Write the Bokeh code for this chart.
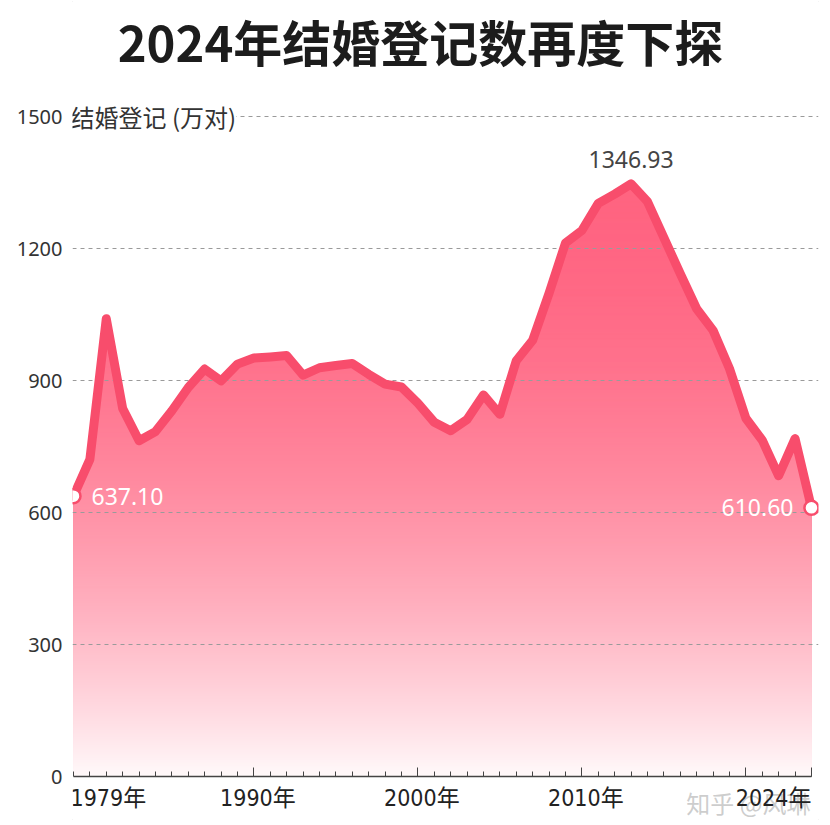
import numpy as np
from bokeh.plotting import figure
from bokeh.models import FixedTicker, Label, Range1d
from bokeh.core.properties import value
from bokeh.embed import file_html
from bokeh.resources import INLINE

# ---------------- data ----------------
years = list(range(1979, 2025))
marriages = [637.10, 720.9, 1040.3, 836.4, 763.0, 783.9, 831.3, 884.1, 926.0, 899.3,
             937.2, 951.1, 953.6, 956.6, 912.4, 929.0, 934.1, 938.7, 914.1, 891.7,
             885.3, 848.5, 805.0, 786.0, 811.4, 867.2, 823.1, 945.0, 991.4, 1098.3,
             1212.4, 1241.0, 1302.4, 1323.6, 1346.93, 1306.7, 1224.7, 1142.8, 1063.1, 1013.9,
             927.3, 814.3, 764.3, 683.5, 768.0, 610.60]
y_ticks = [0, 300, 600, 900, 1200, 1500]
x_major_ticks = [1990, 2000, 2010, 2020, 2024]
x_label_years = [1979, 1990, 2000, 2010, 2024]
x_label_texts = ["1979年", "1990年", "2000年", "2010年", "2024年"]
title_text = "2024年结婚登记数再度下探"
unit_text = "结婚登记 (万对)"
watermark = "知乎 @风琳"

LINE = "#F84D6C"
FILL_TOP = (255, 100, 129)
CJK = "Noto Sans CJK SC"
NUM = "Noto Sans"

# pixel scale: 16.4 px per year, 0.44 px per 万对
x0, x1 = 1978.94, 2024.43
y0, y1 = -102.27, 1763.64
p = figure(frame_width=746, frame_height=821,
           x_range=Range1d(x0, x1), y_range=Range1d(y0, y1),
           output_backend="svg", toolbar_location=None, title=None,
           min_border_left=72, min_border_right=10, min_border_top=0, min_border_bottom=0,
           background_fill_color="white", border_fill_color="white",
           outline_line_color=None)
p.styles = {"outline": "1px solid #d4d4d4", "outline-offset": "-2px", "border-radius": "4px"}

# title (inside the frame, above the plotting area)
p.add_layout(Label(x=x0 + (420 - 72) / 16.4, y=y1 - 40 / 0.44, text=title_text,
                   text_align="center", text_baseline="middle", text_font=CJK,
                   text_font_size="49px", text_font_style="bold", text_color="#1c1c1c"))

# gradient fill under the curve: stacked opaque bands, then white above the curve
def blend(w):
    r, g, b = [int(round(c * (1 - w) + 255 * w)) for c in FILL_TOP]
    return "#%02x%02x%02x" % (r, g, b)

levels = list(np.arange(1360, 0, -2.5))
colors = []
for L in levels:
    mid = min(L - 1.25, 1350)
    w = 0.96 * (1 - mid / 1350.0) ** 2
    colors.append(blend(w))
p.quad(left=years[0], right=years[-1], bottom=0, top=levels, fill_color=colors,
       line_color=None, level="image")
p.varea(x=[x0] + years + [x1], y1=[marriages[0]] + marriages + [marriages[-1]], y2=1375,
        fill_color="white", level="image")

# line + end markers
p.line(years, marriages, line_width=9, line_color=LINE, line_join="round", line_cap="round")
p.scatter(x=[years[0], years[-1]], y=[marriages[0], marriages[-1]], size=14,
          fill_color="white", line_color=LINE, line_width=2.5)

# value labels
p.text(x=[years[0]], y=[marriages[0]], text=[f"{marriages[0]:.2f}"], x_offset=18,
       text_align="left", text_baseline="middle", text_color="white",
       text_font=value(NUM), text_font_size="23px")
p.text(x=[years[-1]], y=[marriages[-1]], text=[f"{marriages[-1]:.2f}"], x_offset=-18,
       text_align="right", text_baseline="middle", text_color="white",
       text_font=value(NUM), text_font_size="23px")
ip = int(np.argmax(marriages))
p.text(x=[years[ip]], y=[marriages[ip]], text=[f"{marriages[ip]:.2f}"], y_offset=-16,
       text_align="center", text_baseline="bottom", text_color="#444444",
       text_font=value(NUM), text_font_size="23px")

# grid
p.xgrid.visible = False
p.ygrid.ticker = FixedTicker(ticks=[t for t in y_ticks if t > 0])
p.ygrid.grid_line_color = "#9a9a9a"
p.ygrid.grid_line_dash = "4 4"
p.ygrid.grid_line_width = 1

# y axis
p.yaxis.ticker = FixedTicker(ticks=y_ticks)
p.yaxis.axis_line_color = None
p.yaxis.major_tick_line_color = None
p.yaxis.minor_tick_line_color = None
p.yaxis.major_tick_in = 0
p.yaxis.major_tick_out = 0
p.yaxis.minor_tick_in = 0
p.yaxis.minor_tick_out = 0
p.yaxis.major_label_standoff = 10
p.yaxis.major_label_text_font = NUM
p.yaxis.major_label_text_font_size = "20px"
p.yaxis.major_label_text_color = "#333333"

p.add_layout(Label(x=x0, y=y_ticks[-1], text=unit_text, text_align="left",
                   text_baseline="middle", text_font=CJK, text_font_size="24px",
                   text_color="#333333", background_fill_color="white",
                   x_offset=-2))

# x axis (sits at y = 0 inside the frame)
p.xaxis.fixed_location = 0
p.xaxis.ticker = FixedTicker(ticks=x_major_ticks, minor_ticks=years)
p.xaxis.bounds = (years[0], years[-1])
p.xaxis.axis_line_color = "#444444"
p.xaxis.axis_line_width = 1.5
p.xaxis.major_tick_line_color = "#444444"
p.xaxis.minor_tick_line_color = "#444444"
p.xaxis.major_tick_in = 9
p.xaxis.major_tick_out = 0
p.xaxis.minor_tick_in = 5
p.xaxis.minor_tick_out = 0
p.xaxis.major_label_text_color = None

p.add_layout(Label(x=years[-1], y=0, text=watermark, text_align="right",
                   text_baseline="top", y_offset=-8, x_offset=-1,
                   text_font=CJK, text_font_size="24px", text_color="#c4c4c4",
                   text_alpha=0.85))
aligns = ["left", "center", "center", "center", "right"]
offs = [-3, 4, 4, 4, 0]
for yr, lab, al, of in zip(x_label_years, x_label_texts, aligns, offs):
    p.add_layout(Label(x=yr, y=0, text=lab, text_align=al, text_baseline="top",
                       x_offset=of, y_offset=-8,
                       text_font="'DejaVu Sans Condensed', 'Noto Sans CJK SC', sans-serif",
                       text_font_size="23px", text_color="#222222"))

open("out.html", "w").write(file_html(p, INLINE))
